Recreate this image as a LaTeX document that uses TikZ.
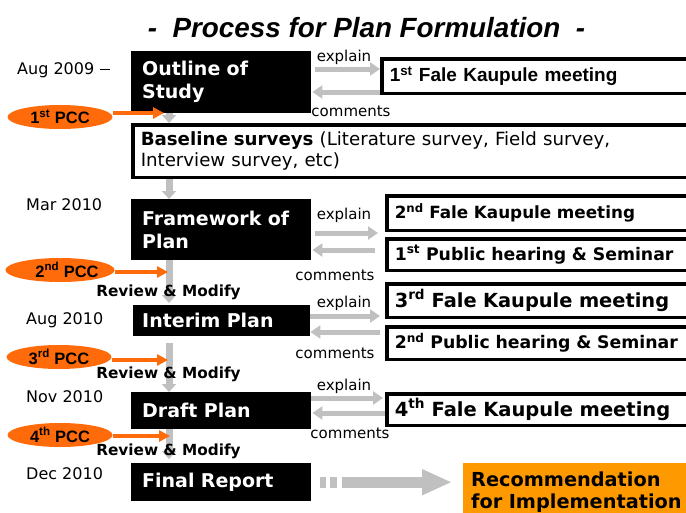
\documentclass[tikz,border=0pt]{standalone}
\usepackage{fontspec}
\setmainfont{DejaVu Sans}
\newfontfamily\arialf{Liberation Sans}
\usetikzlibrary{arrows.meta,shapes.geometric}
\definecolor{silv}{HTML}{C0C0C0}
\definecolor{pcco}{HTML}{FF6A0A}
\definecolor{recoo}{HTML}{FF9900}
\newcommand{\fsz}[1]{\fontsize{#1}{#1}\selectfont}
\begin{document}
\begin{tikzpicture}[x=1pt,y=-1pt,
  blk/.style={fill=black, text=white, anchor=north west, inner xsep=11pt, inner ysep=0pt,
    align=left, text width=158pt, font=\fontsize{19}{23}\selectfont\bfseries},
  rbox/.style={draw, line width=3.5pt, fill=white, anchor=north west, inner xsep=8pt, inner ysep=0pt,
    align=left, text width=330pt},
  datel/.style={anchor=west, font=\fsz{16}, inner sep=0pt},
  lbl/.style={font=\fsz{15}, inner sep=0pt},
  revl/.style={font=\fsz{15.3}\bfseries, inner sep=0pt},
  pcc/.style={ellipse, fill=pcco, minimum width=105pt, minimum height=24pt, inner sep=0pt,
    font=\arialf\bfseries\fsz{16.5}},
  harrow/.style={draw=silv, line width=5pt, -{Triangle[length=10pt,width=13pt]}},
  varrow/.style={draw=silv, line width=7pt, -{Triangle[length=8pt,width=14pt]}},
  oarrow/.style={draw=pcco, line width=4pt, -{Triangle[length=11pt,width=11pt]}}
]
\useasboundingbox (0,0) rectangle (686,512);
\clip (0,0) rectangle (686,512);

% title
\node[font=\arialf\bfseries\itshape\fsz{27.8}] (title) at (366.5,28) {-\ \ Process for Plan Formulation\ \ -};

% dates
\node[datel] (d1) at (17,70) {Aug 2009\hspace{6pt}\rule[4.2pt]{10pt}{1pt}};
\node[datel] (d2) at (26,205) {Mar 2010};
\node[datel] (d3) at (26,320) {Aug 2010};
\node[datel] (d4) at (26,397) {Nov 2010};
\node[datel] (d5) at (26,474) {Dec 2010};

% black boxes
\node[blk, minimum height=62pt] (outline) at (131,51) {Outline of\\Study};
\node[blk, minimum height=61pt] (frame) at (131,199) {Framework of\\Plan};
\node[blk, minimum height=31pt, inner xsep=9pt, text width=159pt] (interim) at (133,305) {Interim Plan};
\node[blk, minimum height=37pt] (draft) at (131,392) {Draft Plan};
\node[blk, minimum height=38pt] (final) at (131,463) {Final Report};

% baseline
\node[rbox, minimum height=52.5pt, text width=560pt, font=\fontsize{18.2}{20.5}\selectfont] (base) at (131,123)
  {\textbf{Baseline surveys} (Literature survey, Field survey,\\Interview survey, etc)};

% right boxes
\node[rbox, minimum height=34.5pt, font=\arialf\bfseries\fsz{19}] (f1) at (380,57) {1\textsuperscript{st} Fale Kaupule meeting};
\node[rbox, minimum height=34.5pt, font=\bfseries\fsz{16.8}] (f2) at (385,194) {2\textsuperscript{nd} Fale Kaupule meeting};
\node[rbox, minimum height=31.5pt, font=\bfseries\fsz{17.3}] (p1) at (385,237) {1\textsuperscript{st} Public hearing \& Seminar};
\node[rbox, minimum height=33.5pt, font=\bfseries\fsz{19.4}] (f3) at (385,282) {3\textsuperscript{rd} Fale Kaupule meeting};
\node[rbox, minimum height=32.5pt, font=\bfseries\fsz{17.3}] (p2) at (385,325) {2\textsuperscript{nd} Public hearing \& Seminar};
\node[rbox, minimum height=31.5pt, font=\bfseries\fsz{19.5}] (f4) at (385,392) {4\textsuperscript{th} Fale Kaupule meeting};

% recommendation
\node[fill=recoo, anchor=north west, minimum height=58pt, inner xsep=8pt, inner ysep=0pt, text width=240pt,
  align=left, font=\fontsize{19.3}{22}\selectfont\bfseries] (reco) at (463,463) {Recommendation\\for Implementation};

% explain / comments labels
\node[lbl] (ex1) at (344,57) {explain};
\node[lbl] (co1) at (351,111) {comments};
\node[lbl] (ex2) at (344,215) {explain};
\node[lbl] (co2) at (335,275) {comments};
\node[lbl] (ex3) at (344,303) {explain};
\node[lbl] (co3) at (335,353) {comments};
\node[lbl] (ex4) at (344,386) {explain};
\node[lbl] (co4) at (350,433) {comments};

% arrow y-levels
\coordinate (e1) at (0,69);   \coordinate (c1) at (0,92);
\coordinate (e2) at (0,233);  \coordinate (c2) at (0,250);
\coordinate (e3) at (0,316);  \coordinate (c3) at (0,332);
\coordinate (e4) at (0,398);  \coordinate (c4) at (0,413);

\draw[harrow, shorten <=4pt] (outline.east |- e1) -- (f1.west |- e1);
\draw[harrow, shorten >=1pt] (f1.west |- c1) -- (outline.east |- c1);
\draw[harrow, shorten <=4pt, shorten >=7pt] (frame.east |- e2) -- (f2.west |- e2);
\draw[harrow, shorten <=10pt, shorten >=1pt] (p1.west |- c2) -- (frame.east |- c2);
\draw[harrow, shorten >=5pt] (interim.east |- e3) -- (f3.west |- e3);
\draw[harrow, shorten <=5pt] (p2.west |- c3) -- (interim.east |- c3);
\draw[harrow, shorten >=2pt] (draft.east |- e4) -- (f4.west |- e4);
\draw[harrow, shorten >=1pt] (f4.west |- c4) -- (draft.east |- c4);

% vertical arrows
\draw[varrow] ([xshift=38pt]outline.south west) -- ([xshift=38pt]base.north west);
\draw[varrow] ([xshift=38pt]base.south west) -- ([xshift=38pt]frame.north west);
\draw[varrow, shorten >=2pt] ([xshift=38pt]frame.south west) -- ([xshift=36pt]interim.north west);
\draw[varrow, shorten <=7pt] ([xshift=36pt]interim.south west) -- ([xshift=38pt]draft.north west);
\draw[varrow, shorten >=4pt] ([xshift=38pt]draft.south west) -- ([xshift=38pt]final.north west);

% review labels
\node[revl] (rv1) at (168.5,292) {Review \& Modify};
\node[revl] (rv2) at (168.5,374) {Review \& Modify};
\node[revl] (rv3) at (168.5,451) {Review \& Modify};

% PCC
\node[pcc] (pcc1) at (60,117) {1\textsuperscript{st} PCC};
\node[pcc] (pcc2) at (60,270) {\hspace*{14pt}2\textsuperscript{nd} PCC};
\node[pcc] (pcc3) at (59,357) {3\textsuperscript{rd} PCC};
\node[pcc] (pcc4) at (60,435) {4\textsuperscript{th} PCC};
\coordinate (t1) at (164,113);
\coordinate (t2) at (168,272);
\coordinate (t3) at (168,360);
\coordinate (t4) at (170,436);
\draw[oarrow] (pcc1.east |- t1) -- (t1);
\draw[oarrow] (pcc2.east |- t2) -- (t2);
\draw[oarrow] (pcc3.east |- t3) -- (t3);
\draw[oarrow] (pcc4.east |- t4) -- (t4);

% final -> recommendation
\draw[draw=silv, line width=11pt, dash pattern=on 6pt off 4pt on 7pt off 5pt on 500pt,
  -{Triangle[length=30pt,width=24pt]}, shorten <=9pt, shorten >=11pt] (final.east) -- (reco.west |- final.east);
\end{tikzpicture}
\end{document}
